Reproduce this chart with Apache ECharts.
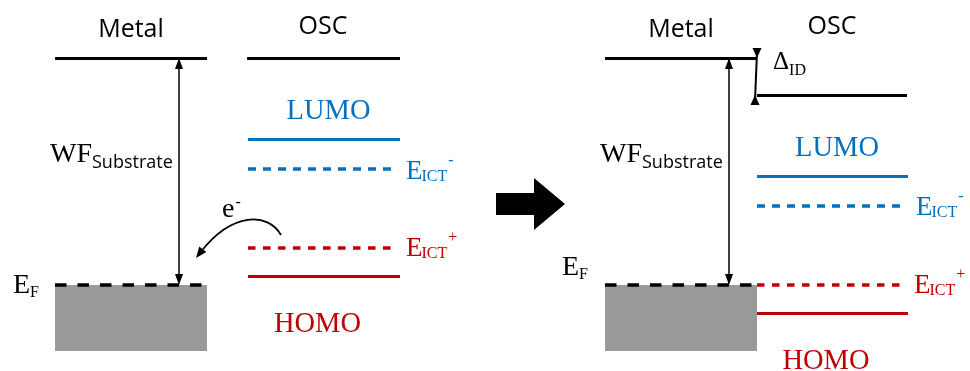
<!DOCTYPE html>
<html><head><meta charset="utf-8">
<script src="https://cdn.jsdelivr.net/npm/echarts@6/dist/echarts.min.js"></script>
<style>html,body{margin:0;padding:0;background:#fff}#c{width:970px;height:371px}</style>
</head><body><div id="c"></div>
<script>
// ---- diagram data (energy levels as [xStart, xEnd, level]) ----
const vacuumLevels   = [[55,207,58],[247,400,58],[605,757,58],[757,907,95]];
const lumoLevels     = [[248,400,139],[757,908,176]];
const ictMinusLevels = [[248,393,169],[757,902,206]];
const ictPlusLevels  = [[248,393,248],[757,902,285]];
const homoLevels     = [[248,400,276],[757,908,313]];
const fermiLevels    = [[55,205,285],[605,757,285]];
const metalBands     = [[55,207,285,351],[605,757,285,351]];   // [x1, x2, top, bottom]
const wfArrows       = [[179,58,285],[729,58,285]];            // [x, from, to]
const dipoleArrows   = [[757,58,755,95]];                      // [xTop, yTop, xBottom, yBottom]
const electronArrows = [[281,235,268,212,232,212,196,258]];    // bezier: start, c1, c2, tip
const shiftArrows    = [[496,565,204]];                        // [xStart, xTip, yCenter]
const headerLabels   = [['Metal',131,37],['OSC',323,34],['Metal',681,37],['OSC',832,34]];
const orbitalLabels  = [['LUMO',328.5,119,'lumo'],['HOMO',317.5,332,'homo'],['LUMO',837,156,'lumo'],['HOMO',826,369,'homo']];
// [main, subscript, superscript, x, baseline, kind]
const levelLabels = [
  ['WF','Substrate','',50,162,'wf'],
  ['WF','Substrate','',600,162,'wf'],
  ['E','F','',13,293,'ef'],
  ['E','F','',562,275,'ef'],
  ['E','ICT','-',406,179,'lumo'],
  ['E','ICT','+',406,256,'homo'],
  ['E','ICT','-',916,215,'lumo'],
  ['E','ICT','+',914,293,'homo'],
  ['\u0394','ID','',773,69,'delta'],
  ['e','','-',222,217,'electron']
];

// ---- styles ----
const BLUE = '#0070C0', RED = '#C00000', GRAY = '#999999', BLACK = '#000000';
const SERIF = '"Liberation Serif", "Times New Roman", serif';
const SANS = '"Open Sans", "DejaVu Sans", sans-serif';
const kindColor = {wf:BLACK, ef:BLACK, lumo:BLUE, homo:RED, delta:BLACK, electron:BLACK};
const kindFont = {
  wf:      {main:[28,SERIF], sub:[18,SANS,6,0], sup:null},
  ef:      {main:[28,SERIF], sub:[16,SERIF,4,0], sup:null},
  lumo:    {main:[27,SERIF], sub:[16,SERIF,1.5,-1], sup:[16,SERIF,-14,1]},
  homo:    {main:[27,SERIF], sub:[16,SERIF,1.5,-1], sup:[16,SERIF,-14,1]},
  delta:   {main:[25,SERIF], sub:[16,SERIF,6,0], sup:null},
  electron:{main:[28,SERIF], sub:null, sup:[16,SERIF,-10,1]}
};

const mctx = document.createElement('canvas').getContext('2d');
function fontStr(size, fam){ return size + 'px ' + fam; }
function textWidth(t, font){ mctx.font = font; mctx.textBaseline='alphabetic'; return mctx.measureText(t).width; }
function midOffset(font){
  mctx.font = font;
  mctx.textBaseline = 'alphabetic';
  const a = mctx.measureText('H').actualBoundingBoxAscent;
  mctx.textBaseline = 'middle';
  const b = mctx.measureText('H').actualBoundingBoxAscent;
  mctx.textBaseline = 'alphabetic';
  return a - b;
}
function textEl(t, x, baseline, font, color, align){
  return {type:'text', silent:true, style:{text:t, x:x, y:baseline - midOffset(font), font:font,
    fill:color, align:align||'left', verticalAlign:'middle'}};
}

function levelSeries(arr, color, width, type){
  return {type:'lines', coordinateSystem:'cartesian2d', silent:true, z:3,
    lineStyle:{color:color, width:width, type:type, opacity:1, cap:'butt'},
    data: arr.map(d => ({coords:[[d[0],d[2]],[d[1],d[2]]]}))};
}

function headPoly(tip, dir, len, half){
  const bx = tip[0] - dir[0]*len, by = tip[1] - dir[1]*len;
  const nx = -dir[1], ny = dir[0];
  return [[tip[0],tip[1]],[bx+nx*half, by+ny*half],[bx-nx*half, by-ny*half]];
}

const chart = echarts.init(document.getElementById('c'), null, {renderer:'canvas'});
chart.setOption({
  animation:false,
  backgroundColor:'#ffffff',
  grid:{left:0,right:0,top:0,bottom:0},
  xAxis:{type:'value',min:0,max:970,show:false},
  yAxis:{type:'value',min:0,max:371,inverse:true,show:false},
  series:[
    { // metal band
      type:'custom', coordinateSystem:'cartesian2d', z:1, silent:true,
      data: metalBands,
      renderItem(params, api){
        const p1 = api.coord([api.value(0), api.value(2)]);
        const p2 = api.coord([api.value(1), api.value(3)]);
        return {type:'rect', shape:{x:p1[0], y:p1[1], width:p2[0]-p1[0], height:p2[1]-p1[1]}, style:{fill:GRAY}};
      }
    },
    levelSeries(vacuumLevels, BLACK, 3, 'solid'),
    levelSeries(lumoLevels, BLUE, 3, 'solid'),
    levelSeries(homoLevels, RED, 3, 'solid'),
    levelSeries(ictMinusLevels, BLUE, 3.5, [8,7]),
    levelSeries(ictPlusLevels, RED, 3.5, [7.5,7.5]),
    levelSeries(fermiLevels, BLACK, 3.5, [11.5,11]),
    { // work-function double arrows
      type:'custom', coordinateSystem:'cartesian2d', z:4, silent:true,
      data: wfArrows,
      renderItem(params, api){
        const a = api.coord([api.value(0), api.value(1)]);
        const b = api.coord([api.value(0), api.value(2)]);
        return {type:'group', children:[
          {type:'line', shape:{x1:a[0],y1:a[1]+8,x2:b[0],y2:b[1]-8}, style:{stroke:BLACK, lineWidth:1.5}},
          {type:'polygon', shape:{points:headPoly(a,[0,-1],11,4)}, style:{fill:BLACK}},
          {type:'polygon', shape:{points:headPoly(b,[0,1],11,4)}, style:{fill:BLACK}}
        ]};
      }
    },
    { // interface dipole arrows
      type:'custom', coordinateSystem:'cartesian2d', z:4, silent:true,
      data: dipoleArrows,
      renderItem(params, api){
        const a = api.coord([api.value(0), api.value(1)]);
        const b = api.coord([api.value(2), api.value(3)]);
        return {type:'group', children:[
          {type:'line', shape:{x1:a[0],y1:a[1]-6,x2:b[0],y2:b[1]+6}, style:{stroke:BLACK, lineWidth:2}},
          {type:'polygon', shape:{points:headPoly(a,[0,1],10,4.5)}, style:{fill:BLACK}},
          {type:'polygon', shape:{points:headPoly(b,[0,-1],10,4.5)}, style:{fill:BLACK}}
        ]};
      }
    },
    { // electron transfer curved arrow
      type:'custom', coordinateSystem:'cartesian2d', z:4, silent:true,
      data: electronArrows,
      renderItem(params, api){
        const p0 = api.coord([api.value(0), api.value(1)]);
        const c1 = api.coord([api.value(2), api.value(3)]);
        const c2 = api.coord([api.value(4), api.value(5)]);
        const tip = api.coord([api.value(6), api.value(7)]);
        let dx = tip[0]-c2[0], dy = tip[1]-c2[1];
        const n = Math.hypot(dx,dy); dx/=n; dy/=n;
        const end = [tip[0]-dx*8, tip[1]-dy*8];
        return {type:'group', children:[
          {type:'bezierCurve', shape:{x1:p0[0],y1:p0[1],cpx1:c1[0],cpy1:c1[1],cpx2:c2[0],cpy2:c2[1],x2:end[0],y2:end[1]},
            style:{stroke:BLACK, lineWidth:1.8, fill:null}},
          {type:'polygon', shape:{points:headPoly(tip,[dx,dy],11,4.5)}, style:{fill:BLACK}}
        ]};
      }
    },
    { // big block arrow between panels
      type:'custom', coordinateSystem:'cartesian2d', z:4, silent:true,
      data: shiftArrows,
      renderItem(params, api){
        const s = api.coord([api.value(0), api.value(2)]);
        const t = api.coord([api.value(1), api.value(2)]);
        const hx = t[0] - 31, y = s[1];
        return {type:'polygon', shape:{points:[[s[0],y-11],[hx,y-11],[hx,y-26],[t[0],y],[hx,y+26],[hx,y+11],[s[0],y+11]]},
          style:{fill:BLACK}};
      }
    },
    { // headers
      type:'custom', coordinateSystem:'cartesian2d', z:5, silent:true,
      data: headerLabels.map(h => [h[1], h[2]]),
      renderItem(params, api){
        const p = api.coord([api.value(0), api.value(1)]);
        return textEl(headerLabels[params.dataIndex][0], p[0], p[1], fontStr(25, SANS), BLACK, 'center');
      }
    },
    { // LUMO / HOMO names
      type:'custom', coordinateSystem:'cartesian2d', z:5, silent:true,
      data: orbitalLabels.map(h => [h[1], h[2]]),
      renderItem(params, api){
        const l = orbitalLabels[params.dataIndex];
        const p = api.coord([api.value(0), api.value(1)]);
        return textEl(l[0], p[0], p[1], fontStr(28.5, SERIF), kindColor[l[3]], 'center');
      }
    },
    { // level labels with sub/superscripts
      type:'custom', coordinateSystem:'cartesian2d', z:5, silent:true,
      data: levelLabels.map(l => [l[3], l[4]]),
      renderItem(params, api){
        const l = levelLabels[params.dataIndex];
        const f = kindFont[l[5]], col = kindColor[l[5]];
        const p = api.coord([api.value(0), api.value(1)]);
        const children = [];
        const mf = fontStr(f.main[0], f.main[1]);
        children.push(textEl(l[0], p[0], p[1], mf, col));
        let x = p[0] + textWidth(l[0], mf);
        if (l[1] && f.sub){
          const sf = fontStr(f.sub[0], f.sub[1]);
          x += f.sub[3];
          children.push(textEl(l[1], x, p[1] + f.sub[2], sf, col));
          x += textWidth(l[1], sf);
        }
        if (l[2] && f.sup){
          const pf = fontStr(f.sup[0], f.sup[1]);
          children.push(textEl(l[2], x + f.sup[3], p[1] + f.sup[2], pf, col));
        }
        return {type:'group', children};
      }
    }
  ]
});
</script>
</body></html>
